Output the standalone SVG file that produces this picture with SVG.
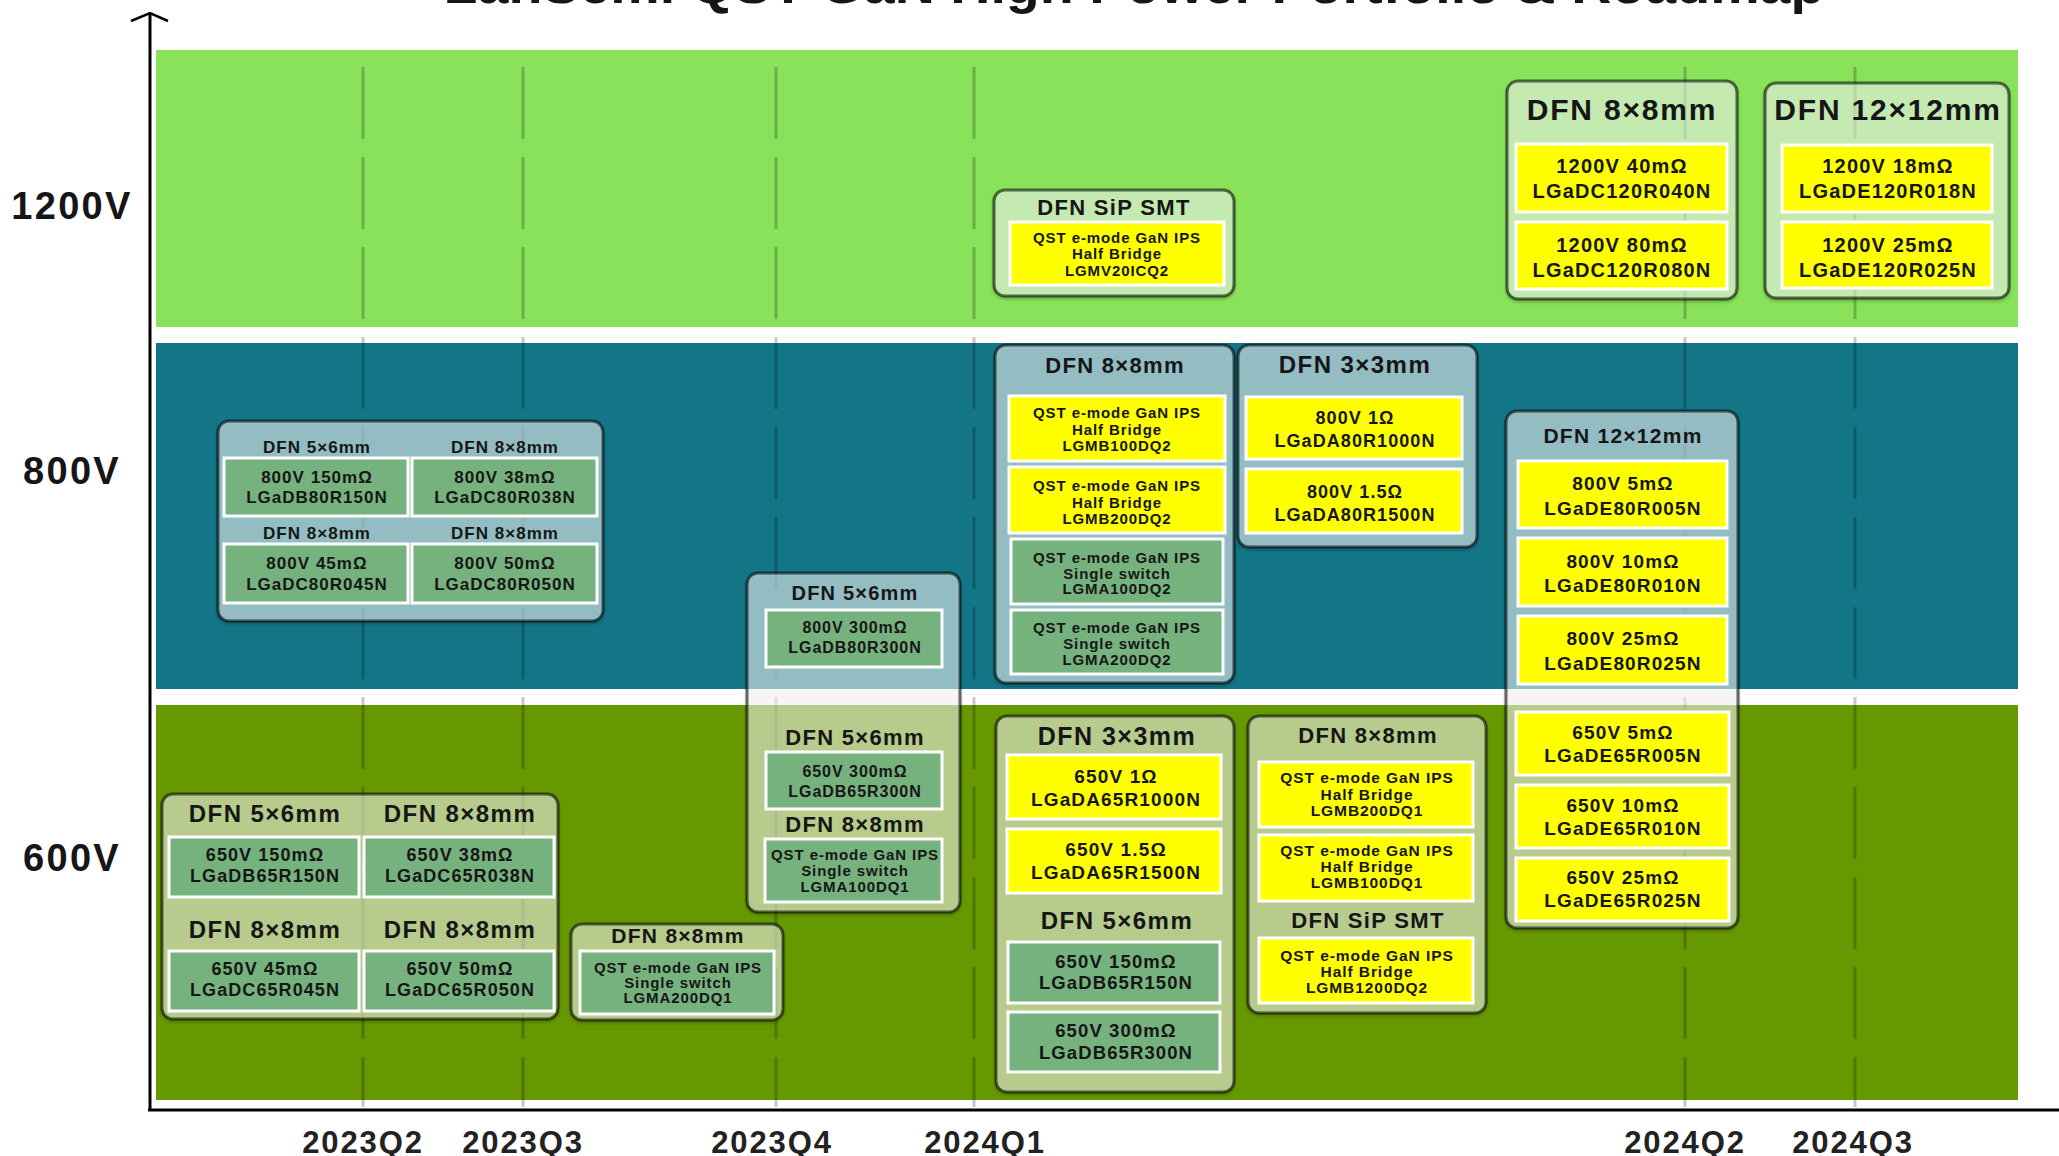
<svg xmlns="http://www.w3.org/2000/svg" width="2059" height="1156" viewBox="0 0 2059 1156">
<defs>
<style>
text{font-family:"Liberation Sans",Arial,sans-serif;font-weight:bold;fill:#161616;text-anchor:middle;letter-spacing:0.06em}
.node{fill:#ffffff;fill-opacity:0.5;stroke:#000;stroke-opacity:0.55;stroke-width:3;filter:url(#sh)}
.y{fill:#ffff00;stroke:#ffffff;stroke-width:3}
.g{fill:#76b27e;stroke:#ffffff;stroke-width:3}
.grid{stroke:#000;stroke-opacity:0.22;stroke-width:3;stroke-dasharray:72 18;fill:none}
.axis{stroke:#000;stroke-width:3;fill:none}
.vl{font-size:38px}
.ql{font-size:31px;fill:#222}
</style>
<filter id="sh" x="-5%" y="-5%" width="110%" height="115%">
<feDropShadow dx="0" dy="2" stdDeviation="1.5" flood-color="#000" flood-opacity="0.35"/>
</filter>
</defs>

<rect width="2059" height="1156" fill="#ffffff"/>

<g id="title">
<text x="1134" y="3" font-size="54" textLength="1381" lengthAdjust="spacingAndGlyphs" style="letter-spacing:0">LanSemi QST GaN High Power Portfolio &amp; Roadmap</text>
</g>

<g id="bands">
<rect x="156" y="50" width="1862" height="277" fill="#88e25a"/>
<rect x="156" y="343" width="1862" height="346" fill="#127687"/>
<rect x="156" y="705" width="1862" height="395" fill="#669900"/>
</g>

<g id="connectors">
<line class="grid" x1="363" y1="67" x2="363" y2="1107"/>
<line class="grid" x1="523" y1="67" x2="523" y2="1107"/>
<line class="grid" x1="776" y1="67" x2="776" y2="1107"/>
<line class="grid" x1="974" y1="67" x2="974" y2="1107"/>
<line class="grid" x1="1685" y1="67" x2="1685" y2="1107"/>
<line class="grid" x1="1855" y1="67" x2="1855" y2="1107"/>
<line class="axis" x1="150" y1="14" x2="150" y2="1111"/>
<line class="axis" x1="148" y1="1110" x2="2059" y2="1110"/>
<polyline class="axis" style="stroke-width:2.5" points="131,21 150,13 168,21"/>
</g>

<g id="axis-labels">
<text class="vl" x="72" y="219">1200V</text>
<text class="vl" x="72" y="484">800V</text>
<text class="vl" x="72" y="871">600V</text>
<text class="ql" x="363" y="1153">2023Q2</text>
<text class="ql" x="523" y="1153">2023Q3</text>
<text class="ql" x="772" y="1153">2023Q4</text>
<text class="ql" x="985" y="1153">2024Q1</text>
<text class="ql" x="1685" y="1153">2024Q2</text>
<text class="ql" x="1853" y="1153">2024Q3</text>
</g>

<!-- 1200V -->
<g id="n1200-sip">
<rect class="node" x="994" y="190" width="240" height="106" rx="11"/>
<text x="1114" y="215" font-size="22">DFN SiP SMT</text>
<rect class="y" x="1010" y="222" width="214" height="63"/>
<text x="1117" y="243" font-size="15">QST e-mode GaN IPS</text>
<text x="1117" y="259" font-size="15">Half Bridge</text>
<text x="1117" y="276" font-size="15">LGMV20ICQ2</text>
</g>

<g id="n1200-8x8">
<rect class="node" x="1507" y="81" width="230" height="218" rx="11"/>
<text x="1622" y="120" font-size="30">DFN 8×8mm</text>
<rect class="y" x="1516" y="144" width="211" height="68"/>
<text x="1622" y="173" font-size="20">1200V 40mΩ</text>
<text x="1622" y="198" font-size="20">LGaDC120R040N</text>
<rect class="y" x="1516" y="222" width="211" height="67"/>
<text x="1622" y="252" font-size="20">1200V 80mΩ</text>
<text x="1622" y="277" font-size="20">LGaDC120R080N</text>
</g>

<g id="n1200-12x12">
<rect class="node" x="1765" y="83" width="244" height="215" rx="11"/>
<text x="1888" y="120" font-size="30">DFN 12×12mm</text>
<rect class="y" x="1782" y="145" width="210" height="67"/>
<text x="1888" y="173" font-size="20">1200V 18mΩ</text>
<text x="1888" y="198" font-size="20">LGaDE120R018N</text>
<rect class="y" x="1782" y="222" width="210" height="66"/>
<text x="1888" y="252" font-size="20">1200V 25mΩ</text>
<text x="1888" y="277" font-size="20">LGaDE120R025N</text>
</g>

<!-- 800V -->
<g id="n800-left">
<rect class="node" x="218" y="421" width="385" height="200" rx="11"/>
<text x="317" y="453" font-size="17">DFN 5×6mm</text>
<text x="505" y="453" font-size="17">DFN 8×8mm</text>
<rect class="g" x="224" y="458" width="184" height="58"/>
<rect class="g" x="412" y="458" width="185" height="58"/>
<text x="317" y="483" font-size="17">800V 150mΩ</text>
<text x="317" y="503" font-size="17">LGaDB80R150N</text>
<text x="505" y="483" font-size="17">800V 38mΩ</text>
<text x="505" y="503" font-size="17">LGaDC80R038N</text>
<text x="317" y="539" font-size="17">DFN 8×8mm</text>
<text x="505" y="539" font-size="17">DFN 8×8mm</text>
<rect class="g" x="224" y="544" width="184" height="59"/>
<rect class="g" x="412" y="544" width="185" height="59"/>
<text x="317" y="569" font-size="17">800V 45mΩ</text>
<text x="317" y="590" font-size="17">LGaDC80R045N</text>
<text x="505" y="569" font-size="17">800V 50mΩ</text>
<text x="505" y="590" font-size="17">LGaDC80R050N</text>
</g>

<g id="n-5x6-span">
<rect class="node" x="747" y="573" width="213" height="339" rx="11"/>
<text x="855" y="600" font-size="20">DFN 5×6mm</text>
<rect class="g" x="766" y="610" width="176" height="57"/>
<text x="855" y="633" font-size="16">800V 300mΩ</text>
<text x="855" y="653" font-size="16">LGaDB80R300N</text>
<text x="855" y="745" font-size="22">DFN 5×6mm</text>
<rect class="g" x="766" y="752" width="176" height="57"/>
<text x="855" y="777" font-size="16">650V 300mΩ</text>
<text x="855" y="797" font-size="16">LGaDB65R300N</text>
<text x="855" y="832" font-size="22">DFN 8×8mm</text>
<rect class="g" x="765" y="839" width="177" height="63"/>
<text x="855" y="860" font-size="15">QST e-mode GaN IPS</text>
<text x="855" y="876" font-size="15">Single switch</text>
<text x="855" y="892" font-size="15">LGMA100DQ1</text>
</g>

<g id="n800-8x8">
<rect class="node" x="995" y="345" width="239" height="338" rx="11"/>
<text x="1115" y="373" font-size="22">DFN 8×8mm</text>
<rect class="y" x="1009" y="396" width="216" height="65"/>
<text x="1117" y="418" font-size="15">QST e-mode GaN IPS</text>
<text x="1117" y="435" font-size="15">Half Bridge</text>
<text x="1117" y="451" font-size="15">LGMB100DQ2</text>
<rect class="y" x="1009" y="467" width="216" height="66"/>
<text x="1117" y="491" font-size="15">QST e-mode GaN IPS</text>
<text x="1117" y="508" font-size="15">Half Bridge</text>
<text x="1117" y="524" font-size="15">LGMB200DQ2</text>
<rect class="g" x="1011" y="539" width="212" height="65"/>
<text x="1117" y="563" font-size="15">QST e-mode GaN IPS</text>
<text x="1117" y="579" font-size="15">Single switch</text>
<text x="1117" y="594" font-size="15">LGMA100DQ2</text>
<rect class="g" x="1011" y="610" width="212" height="64"/>
<text x="1117" y="633" font-size="15">QST e-mode GaN IPS</text>
<text x="1117" y="649" font-size="15">Single switch</text>
<text x="1117" y="665" font-size="15">LGMA200DQ2</text>
</g>

<g id="n800-3x3">
<rect class="node" x="1238" y="345" width="239" height="202" rx="11"/>
<text x="1355" y="373" font-size="24">DFN 3×3mm</text>
<rect class="y" x="1246" y="397" width="216" height="62"/>
<text x="1355" y="424" font-size="18">800V 1Ω</text>
<text x="1355" y="447" font-size="18">LGaDA80R1000N</text>
<rect class="y" x="1246" y="469" width="216" height="64"/>
<text x="1355" y="498" font-size="18">800V 1.5Ω</text>
<text x="1355" y="521" font-size="18">LGaDA80R1500N</text>
</g>

<g id="n-12x12-span">
<rect class="node" x="1506" y="411" width="232" height="517" rx="11"/>
<text x="1623" y="443" font-size="21">DFN 12×12mm</text>
<rect class="y" x="1518" y="461" width="209" height="67"/>
<text x="1623" y="490" font-size="19">800V 5mΩ</text>
<text x="1623" y="515" font-size="19">LGaDE80R005N</text>
<rect class="y" x="1518" y="538" width="209" height="68"/>
<text x="1623" y="568" font-size="19">800V 10mΩ</text>
<text x="1623" y="592" font-size="19">LGaDE80R010N</text>
<rect class="y" x="1518" y="616" width="209" height="68"/>
<text x="1623" y="645" font-size="19">800V 25mΩ</text>
<text x="1623" y="670" font-size="19">LGaDE80R025N</text>
<rect class="y" x="1516" y="712" width="213" height="63"/>
<text x="1623" y="739" font-size="19">650V 5mΩ</text>
<text x="1623" y="762" font-size="19">LGaDE65R005N</text>
<rect class="y" x="1516" y="785" width="213" height="63"/>
<text x="1623" y="812" font-size="19">650V 10mΩ</text>
<text x="1623" y="835" font-size="19">LGaDE65R010N</text>
<rect class="y" x="1516" y="858" width="213" height="63"/>
<text x="1623" y="884" font-size="19">650V 25mΩ</text>
<text x="1623" y="907" font-size="19">LGaDE65R025N</text>
</g>

<!-- 600V -->
<g id="n600-left">
<rect class="node" x="162" y="794" width="396" height="225" rx="11"/>
<text x="265" y="822" font-size="24">DFN 5×6mm</text>
<text x="460" y="822" font-size="24">DFN 8×8mm</text>
<rect class="g" x="169" y="837" width="190" height="60"/>
<rect class="g" x="364" y="837" width="190" height="60"/>
<text x="265" y="861" font-size="18">650V 150mΩ</text>
<text x="265" y="882" font-size="18">LGaDB65R150N</text>
<text x="460" y="861" font-size="18">650V 38mΩ</text>
<text x="460" y="882" font-size="18">LGaDC65R038N</text>
<text x="265" y="938" font-size="24">DFN 8×8mm</text>
<text x="460" y="938" font-size="24">DFN 8×8mm</text>
<rect class="g" x="169" y="951" width="190" height="60"/>
<rect class="g" x="364" y="951" width="190" height="60"/>
<text x="265" y="975" font-size="18">650V 45mΩ</text>
<text x="265" y="996" font-size="18">LGaDC65R045N</text>
<text x="460" y="975" font-size="18">650V 50mΩ</text>
<text x="460" y="996" font-size="18">LGaDC65R050N</text>
</g>

<g id="n600-8x8-small">
<rect class="node" x="571" y="924" width="212" height="96" rx="11"/>
<text x="678" y="943" font-size="21">DFN 8×8mm</text>
<rect class="g" x="580" y="951" width="194" height="63"/>
<text x="678" y="973" font-size="15">QST e-mode GaN IPS</text>
<text x="678" y="988" font-size="15">Single switch</text>
<text x="678" y="1003" font-size="15">LGMA200DQ1</text>
</g>

<g id="n600-3x3">
<rect class="node" x="996" y="716" width="238" height="376" rx="11"/>
<text x="1117" y="745" font-size="25">DFN 3×3mm</text>
<rect class="y" x="1007" y="755" width="214" height="64"/>
<text x="1116" y="783" font-size="19">650V 1Ω</text>
<text x="1116" y="806" font-size="19">LGaDA65R1000N</text>
<rect class="y" x="1007" y="829" width="214" height="64"/>
<text x="1116" y="856" font-size="19">650V 1.5Ω</text>
<text x="1116" y="879" font-size="19">LGaDA65R1500N</text>
<text x="1117" y="929" font-size="24">DFN 5×6mm</text>
<rect class="g" x="1008" y="942" width="212" height="61"/>
<text x="1116" y="968" font-size="18.5">650V 150mΩ</text>
<text x="1116" y="989" font-size="18.5">LGaDB65R150N</text>
<rect class="g" x="1008" y="1012" width="212" height="60"/>
<text x="1116" y="1037" font-size="18.5">650V 300mΩ</text>
<text x="1116" y="1059" font-size="18.5">LGaDB65R300N</text>
</g>

<g id="n600-8x8-sip">
<rect class="node" x="1248" y="716" width="238" height="297" rx="11"/>
<text x="1368" y="743" font-size="22">DFN 8×8mm</text>
<rect class="y" x="1259" y="762" width="214" height="65"/>
<text x="1367" y="783" font-size="15.5">QST e-mode GaN IPS</text>
<text x="1367" y="800" font-size="15.5">Half Bridge</text>
<text x="1367" y="816" font-size="15.5">LGMB200DQ1</text>
<rect class="y" x="1259" y="835" width="214" height="66"/>
<text x="1367" y="856" font-size="15.5">QST e-mode GaN IPS</text>
<text x="1367" y="872" font-size="15.5">Half Bridge</text>
<text x="1367" y="888" font-size="15.5">LGMB100DQ1</text>
<text x="1368" y="928" font-size="22">DFN SiP SMT</text>
<rect class="y" x="1259" y="938" width="214" height="65"/>
<text x="1367" y="961" font-size="15.5">QST e-mode GaN IPS</text>
<text x="1367" y="977" font-size="15.5">Half Bridge</text>
<text x="1367" y="993" font-size="15.5">LGMB1200DQ2</text>
</g>
</svg>
